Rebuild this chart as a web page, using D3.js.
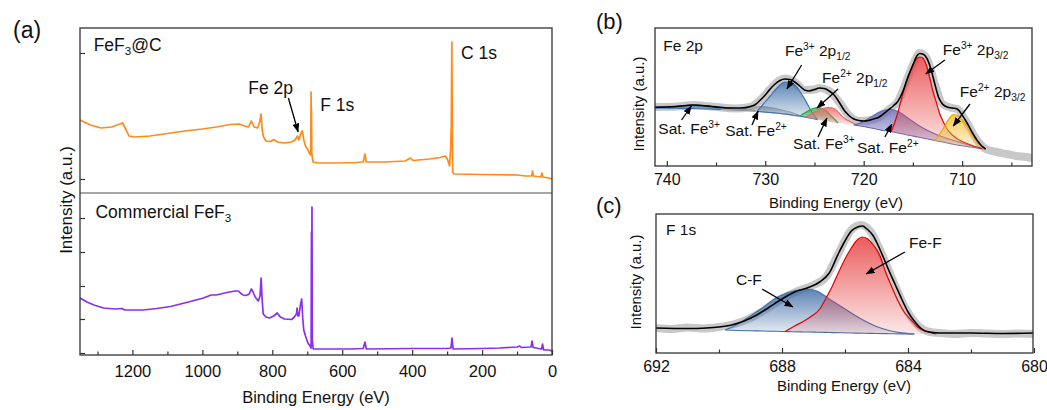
<!DOCTYPE html>
<html>
<head>
<meta charset="utf-8">
<script src="https://cdn.jsdelivr.net/npm/d3@7"></script>
<style>
body { margin: 0; background: #fff; }
svg { font-family: "Liberation Sans", Arial, sans-serif; }
text { white-space: pre; }
</style>
</head>
<body>
<div id="chart"></div>
<script>
// ---- survey spectra (binding energy eV, intensity a.u.) ----
var fef3cSurvey = [[1350,36.5],[1320,34],[1290,32.5],[1260,33],[1235,34.5],[1228,35],[1218,31.5],[1210,28.5],[1195,28],[1150,28.5],[1100,29.75],[1050,31],[1000,32],[960,33],[920,34.25],[895,34.5],[880,33.5],[868,33],[860,36],[852,33],[842,32.5],[836,35.5],[832,39.5],[829,31.5],[825,28],[818,26],[805,25.75],[796,26.75],[785,25.5],[765,25],[745,25.5],[735,26.5],[728,28.5],[724,26.5],[719,29.5],[714,31],[710,26.5],[705,23.5],[698,21.5],[693,19.5],[690,19],[689,50.5],[688.5,30],[688,42.5],[687,20],[685,17],[683,15.5],[670,15],[620,15],[560,15.25],[540,15.5],[535,19.5],[531,15.5],[480,15.5],[420,16],[405,17.5],[398,16.25],[350,17],[320,17.75],[305,18.5],[298,16.5],[293,13.5],[290,21.5],[288,34],[286.5,75.5],[285,30],[284,10.5],[280,9.5],[200,9.25],[100,9],[75,8.5],[58,8.5],[56,11],[53,8.5],[32,8],[29,10],[26,8],[10,7.5],[0,7]];
var commercialSurvey = [[1350,28.5],[1330,26.5],[1310,25],[1283,23.5],[1250,23],[1230,23.25],[1222,22.5],[1200,22.5],[1169,22.5],[1130,23.25],[1091,24.25],[1040,26.5],[997,28.5],[975,30],[960,30],[930,31.25],[906,32],[897,32],[890,30.75],[883,30],[875,29.75],[866,30.5],[860,33],[855,31.5],[849,29],[840,27],[835,29.5],[832,38.5],[829,27.5],[826,20.5],[818,19],[808,18.5],[796,19.5],[786,21],[777,19],[765,18],[745,17.75],[738,18.75],[731,20.5],[729,23.5],[727,19.5],[724,19.5],[720,24.5],[716,28],[713,18.5],[710,12.5],[705,9.5],[698,6],[692,4.5],[689,3.5],[688,61.5],[687.5,20],[686.5,74],[685.5,7.5],[683,3],[650,3],[580,3],[540,3.25],[535,6.5],[531,3],[400,3.25],[300,3.25],[289,3.5],[286,8.5],[283,3],[200,3.25],[150,3.5],[100,4],[92,4.5],[88,3.75],[60,4],[57,7],[54,3.75],[30,3],[27,5.5],[24,2.5],[10,2.5],[0,2]];
var surveyTicks = [1200, 1000, 800, 600, 400, 200, 0];
var surveyMinor = [1300, 1100, 900, 700, 500, 300, 100];
var topTicksY = [7, 70];
var botTicksY = [1, 18, 34.5, 51.5, 68.5];

// ---- Fe 2p (E, intensity) and fitted components (E, top, base) ----
var fe2pRaw = [[741.2,29.5],[739,29.75],[737.3,30.5],[735.5,29.75],[733,28.75],[731.5,29.5],[730.5,33],[729.5,38.5],[728.5,43],[728,43.75],[727,42],[726,38],[725,38.25],[724.5,39],[723.5,37.5],[722.5,32],[721.5,25.25],[720.5,22.5],[719.5,22.75],[718.5,24.25],[717.5,28],[716.5,32.5],[715.5,44.5],[715,50.5],[714.3,56.5],[713.6,54],[712.8,41.5],[712,31],[711,29],[710.5,28.5],[709.5,21.5],[708.5,13],[707.6,8.5],[706.5,7],[705.5,6],[704.5,5],[703.5,4.5],[702.9,4]];
var fe2pEnvelope = [[741.2,29.25],[740,29.5],[739,29.75],[738,30.25],[737.3,30.5],[736.5,30.25],[735.5,29.75],[734.5,29.25],[733.5,29],[732.5,29],[731.5,29.75],[731,30.75],[730.5,33],[730,35.5],[729.5,38.5],[729,41],[728.5,42.75],[728,43.5],[727.5,43.25],[727,42],[726.5,40],[726,38],[725.5,37.5],[725,38.25],[724.5,39],[724,38.75],[723.5,37.5],[723,35.5],[722.5,32],[722,28],[721.5,25.25],[721,23.5],[720.5,22.75],[720,22.5],[719.5,22.75],[719,23.5],[718.5,24.25],[718,26],[717.5,28],[717,30],[716.5,32.5],[716,37.5],[715.5,44.5],[715,50.5],[714.6,55],[714.3,56.25],[714,56],[713.6,54],[713.2,49],[712.8,41.5],[712.4,34.5],[712,31],[711.5,29.5],[711,29],[710.5,28.5],[710,25.5],[709.5,21.5],[709,17],[708.5,13],[708,10],[707.6,8.5]];
var satFe3A = [[741.2,29.75,29],[739,30,28.85],[737.5,30.5,28.7],[736,30.25,28.5],[734,29.25,28.25],[732,28.25,27.75],[731,27.6,27.5]];
var satFe2A = [[734.5,28.25,28.25],[733,28.75,28],[731.5,29.5,27.6],[730.5,29.75,27.25],[729.5,29.25,26.75],[728.5,28.25,26.25],[727.5,27,25.5],[726.5,25.25,24.9]];
var fe3p12 = [[730.8,27.5,27.25],[730.2,31,27],[729.5,35,26.75],[729,38,26.5],[728.5,40.5,26.25],[728,42,26],[727.5,41.75,25.75],[727,40.5,25.25],[726.5,37.5,25],[726,33.5,24.5],[725.5,29,24],[725,25,23.5],[724.7,23.25,23.1]];
var fe2p12 = [[726.5,24.85,24.85],[726,26.5,24.5],[725.5,28,24],[725,29,23.5],[724.6,29.25,23.15],[724.2,28.75,22.75],[723.8,27.5,22.35],[723.4,25.5,22],[723,23.5,21.65],[722.6,21.5,21.35]];
var satFe3B = [[726,24.5,24.5],[725.5,25.5,24],[725,27,23.5],[724.5,28.25,23],[724,29,22.5],[723.6,29.25,22.25],[723,28.75,21.75],[722.5,26.5,21.35],[722,24,21],[721.5,22.5,20.75],[721,21.25,20.5],[720.5,20.25,20.1]];
var satFe2B = [[721,20.5,20.5],[720.5,21.25,20.15],[720,22.25,19.75],[719.5,23.75,19.25],[719,25.25,18.75],[718.5,26.75,18.25],[718,27.75,17.75],[717.3,28.25,17.25],[716.5,27.25,16.5],[716,25.75,16],[715.3,23.25,15.25],[714.5,20.5,14.5],[713.5,17.75,13.5],[712.5,15.5,12.5],[711.5,13.75,11.5],[710.5,12.25,10.5],[709.5,10.75,9.75],[708.5,9.5,9],[707.6,8.5,8.5]];
var fe3p32 = [[717.2,17.25,17.1],[716.9,21,16.85],[716.6,25.5,16.6],[716.3,31,16.35],[716,36.5,16],[715.6,43,15.6],[715.3,47,15.25],[715,50.5,15],[714.6,53.75,14.5],[714.3,54.5,14.25],[714,54,14],[713.6,50,13.5],[713.3,44.5,13.25],[713,38,13],[712.6,31.5,12.5],[712.3,26.5,12.25],[712,23,12],[711.6,19,11.5],[711,15.5,11],[710.3,13,10.35],[709.5,11.25,9.75],[708.7,9.75,9.1],[708,8.75,8.6]];
var fe2p32 = [[712.8,12.75,12.75],[712.4,15,12.35],[712,18,12],[711.6,21.5,11.5],[711.2,24.5,11.15],[710.9,25.75,10.9],[710.5,25.25,10.5],[710,23,10.1],[709.5,19.5,9.75],[709,15.5,9.35],[708.5,12,9],[708,9.5,8.65],[707.6,8.25,8.25]];
var fe2pTicks = [740, 730, 720, 710];
var fe2pMinor = [735, 725, 715, 705];

// ---- F 1s ----
var f1sRaw = [[692,12.5],[691.5,12],[691,12.75],[690.5,12.25],[690,13],[689.5,14.5],[689,17.5],[688.5,22],[688,27],[687.5,31],[687,34],[686.6,38],[686.2,50],[685.8,61.5],[685.5,64],[685.2,61],[684.9,52],[684.5,37],[684.1,23],[683.7,14],[683.3,10.5],[683,10],[682.5,9.5],[682,10],[681.5,9.75],[681,9.5],[680.5,9.75],[680,9.5]];
var f1sEnvelope = [[692,12.5],[691,12.25],[690.4,12.5],[690,13],[689.6,14],[689.2,16],[688.8,19],[688.4,23],[688,27],[687.6,30.5],[687.2,32.5],[686.8,35.5],[686.5,40],[686.2,50],[686,56],[685.8,61],[685.6,63],[685.45,63.5],[685.3,62],[685.1,58.5],[685,55.5],[684.8,48.5],[684.6,41],[684.4,34],[684.2,27],[684,20.5],[683.8,16],[683.6,12.5],[683.4,10.75],[683,10],[682,10],[681,9.75],[680,10]];
var cfPeak = [[689.8,11.5,11.5],[689.4,14.5,11.25],[689,18.5,11.1],[688.6,22.75,11],[688.2,27.5,10.85],[687.8,30.25,10.7],[687.4,31.75,10.55],[687.2,32,10.5],[686.9,31,10.4],[686.5,27,10.25],[686.1,23,10.1],[685.8,20,10],[685.4,16.25,9.9],[685,13.25,9.75],[684.6,11.25,9.65],[684.2,10.1,9.55],[683.8,9.5,9.5]];
var fefPeak = [[687.9,10.75,10.75],[687.6,13.5,10.6],[687.3,16,10.55],[687.1,18,10.5],[686.8,22,10.4],[686.6,27.5,10.3],[686.4,33.5,10.2],[686.2,40.5,10.15],[686,47,10.05],[685.8,52.5,10],[685.6,56.75,9.95],[685.45,58,9.9],[685.3,57.25,9.85],[685.1,54,9.8],[684.9,49,9.75],[684.7,40,9.7],[684.5,32.5,9.65],[684.3,25.5,9.6],[684.1,20,9.55],[683.9,16.5,9.5],[683.7,13,9.5],[683.4,10.75,9.45],[683.1,9.5,9.45]];
var f1sTicks = [692, 688, 684, 680];
var f1sMinor = [690, 686, 682];

// ---- annotations (text parts, positions in data units) ----
var annoTop = [
  {parts: ["FeF", ["3", "sub"], "@C"], at: [1311, 71]},
  {parts: ["Fe 2p"], at: [868.6, 49.5], from: [754, 47.5], to: [726, 30.5]},
  {parts: ["F 1s"], at: [662.9, 41]},
  {parts: ["C 1s"], at: [260, 67]}
];
var annoBot = [
  {parts: ["Commercial FeF", ["3", "sub"]], at: [1305.7, 68.5]}
];
var annoFe = [
  {parts: ["Fe 2p"], at: [740.35, 57.5]},
  {parts: ["Fe", ["3+", "sup"], " 2p", ["1/2", "sub"]], at: [728.0, 55], from: [726.3, 50.5], to: [727.8, 38.5]},
  {parts: ["Fe", ["2+", "sup"], " 2p", ["1/2", "sub"]], at: [724.23, 41.5], from: [722.6, 38.5], to: [724.74, 29]},
  {parts: ["Fe", ["3+", "sup"], " 2p", ["3/2", "sub"]], at: [711.96, 55.5], from: [711.75, 53], to: [713.7, 46]},
  {parts: ["Fe", ["2+", "sup"], " 2p", ["3/2", "sub"]], at: [710.23, 34.5], from: [709.2, 31], to: [710.9, 20]},
  {parts: ["Sat. Fe", ["3+", "sup"]], at: [740.86, 16], from: [738.5, 23], to: [737.5, 30]},
  {parts: ["Sat. Fe", ["2+", "sup"]], at: [734.07, 15], from: [731.35, 20.5], to: [730.72, 27.5]},
  {parts: ["Sat. Fe", ["3+", "sup"]], at: [727.17, 8.5], from: [724.64, 14.5], to: [723.73, 24]},
  {parts: ["Sat. Fe", ["2+", "sup"]], at: [720.68, 6.5], from: [717.84, 14.5], to: [717.13, 21]}
];
var annoF = [
  {parts: ["F 1s"], at: [691.68, 59]},
  {parts: ["Fe-F"], at: [683.97, 52.5], from: [684.1, 50.5], to: [685.33, 39.5]},
  {parts: ["C-F"], at: [689.46, 34], from: [688.63, 32], to: [687.65, 23]}
];

var svg = d3.select("#chart").append("svg").attr("width", 1047).attr("height", 410);
var defs = svg.append("defs");
defs.append("marker").attr("id", "arrow").attr("markerUnits", "userSpaceOnUse")
  .attr("markerWidth", 9).attr("markerHeight", 7).attr("refX", 8.5).attr("refY", 3.5)
  .attr("orient", "auto")
  .append("path").attr("d", "M0,0 L9,3.5 L0,7 Z").attr("fill", "#000");

function rich(sel, parts, size) {
  var off = 0;
  parts.forEach(function(p) {
    var txt = Array.isArray(p) ? p[0] : p;
    var kind = Array.isArray(p) ? p[1] : null;
    var target = kind === "sup" ? -size * 0.4 : kind === "sub" ? size * 0.25 : 0;
    sel.append("tspan").attr("dy", target - off).attr("font-size", kind ? size * 0.66 : size).text(txt);
    off = target;
  });
}

function annotate(g, list, x, y, size) {
  list.forEach(function(a) {
    if (a.from) {
      g.append("line").attr("x1", x(a.from[0])).attr("y1", y(a.from[1]))
        .attr("x2", x(a.to[0])).attr("y2", y(a.to[1]))
        .attr("stroke", "#000").attr("stroke-width", 1.3).attr("marker-end", "url(#arrow)");
    }
    var t = g.append("text").attr("x", x(a.at[0])).attr("y", y(a.at[1])).attr("fill", "#111");
    rich(t, a.parts, size);
  });
}

function clip(id, x0, y0, w, h) {
  defs.append("clipPath").attr("id", id).append("rect").attr("x", x0).attr("y", y0).attr("width", w).attr("height", h);
  return "url(#" + id + ")";
}

function bottomAxis(g, x, y0, major, minor, size, pad) {
  var ax = g.append("g").attr("transform", "translate(0," + y0 + ")")
    .call(d3.axisBottom(x).tickValues(major).tickSize(-5).tickPadding(pad).tickFormat(d3.format("d")));
  ax.select(".domain").remove();
  ax.selectAll("line").attr("stroke", "#333").attr("stroke-width", 1.2);
  ax.selectAll("text").attr("font-size", size).attr("fill", "#111").attr("font-family", null);
  var mi = g.append("g").attr("transform", "translate(0," + y0 + ")")
    .call(d3.axisBottom(x).tickValues(minor).tickSize(-3.5).tickFormat(""));
  mi.select(".domain").remove();
  mi.selectAll("line").attr("stroke", "#333").attr("stroke-width", 1.2);
}

function gradient(id, color) {
  var lg = defs.append("linearGradient").attr("id", id).attr("x1", 0).attr("y1", 0).attr("x2", 0).attr("y2", 1);
  lg.append("stop").attr("offset", "0%").attr("stop-color", color).attr("stop-opacity", 0.85);
  lg.append("stop").attr("offset", "100%").attr("stop-color", color).attr("stop-opacity", 0.12);
  return "url(#" + id + ")";
}

// fitted peak: gradient fill, top outline, optional base outline
function drawPeak(g, data, x, y, fill, line, withBase, id) {
  var area = d3.area().x(function(d) { return x(d[0]); }).y0(function(d) { return y(d[2]); })
    .y1(function(d) { return y(d[1]); }).curve(d3.curveMonotoneX);
  var top = d3.line().x(function(d) { return x(d[0]); }).y(function(d) { return y(d[1]); }).curve(d3.curveMonotoneX);
  var base = d3.line().x(function(d) { return x(d[0]); }).y(function(d) { return y(d[2]); }).curve(d3.curveMonotoneX);
  g.append("path").datum(data).attr("d", area).attr("fill", gradient(id, fill));
  g.append("path").datum(data).attr("d", top).attr("fill", "none").attr("stroke", line).attr("stroke-width", 1.2);
  if (withBase) {
    g.append("path").datum(data).attr("d", base).attr("fill", "none").attr("stroke", line).attr("stroke-width", 1.1);
  }
}

// ================= (a) survey =================
var xa = d3.scaleLinear().domain([1350, 0]).range([80, 552]);
var yTop = d3.scaleLinear().domain([0, 82.5]).range([193, 28]);
var yBot = d3.scaleLinear().domain([0, 81]).range([355, 193]);
var ga = svg.append("g");

var lineTop = d3.line().x(function(d) { return xa(d[0]); }).y(function(d) { return yTop(d[1]); });
var lineBot = d3.line().x(function(d) { return xa(d[0]); }).y(function(d) { return yBot(d[1]); });
ga.append("path").datum(fef3cSurvey).attr("d", lineTop).attr("fill", "none")
  .attr("stroke", "#ff8a1c").attr("stroke-width", 1.7).attr("stroke-linejoin", "round")
  .attr("clip-path", clip("clipTop", 80, 28, 472, 165));
ga.append("path").datum(commercialSurvey).attr("d", lineBot).attr("fill", "none")
  .attr("stroke", "#8a2ef0").attr("stroke-width", 1.7).attr("stroke-linejoin", "round")
  .attr("clip-path", clip("clipBot", 80, 193, 472, 162));

[[yTop, topTicksY], [yBot, botTicksY]].forEach(function(p) {
  var ay = ga.append("g").attr("transform", "translate(80,0)")
    .call(d3.axisLeft(p[0]).tickValues(p[1]).tickSize(-5).tickFormat(""));
  ay.select(".domain").remove();
  ay.selectAll("line").attr("stroke", "#333").attr("stroke-width", 1.2);
});
bottomAxis(ga, xa, 355, surveyTicks, surveyMinor, 16.5, 10);

ga.append("line").attr("x1", 80).attr("x2", 552).attr("y1", 193).attr("y2", 193)
  .attr("stroke", "#888").attr("stroke-width", 1.5);
ga.append("rect").attr("x", 80).attr("y", 28).attr("width", 472).attr("height", 327)
  .attr("fill", "none").attr("stroke", "#333").attr("stroke-width", 1.3);

annotate(ga, annoTop, xa, yTop, 17.5);
annotate(ga, annoBot, xa, yBot, 17.5);

ga.append("text").attr("x", 316).attr("y", 403).attr("text-anchor", "middle")
  .attr("font-size", 16.5).attr("fill", "#111").text("Binding Energy (eV)");
ga.append("text").attr("transform", "translate(72,200) rotate(-90)").attr("text-anchor", "middle")
  .attr("font-size", 17).attr("fill", "#111").text("Intensity (a.u.)");

// ================= (b) Fe 2p =================
var xb = d3.scaleLinear().domain([741.2, 702.9]).range([655, 1032]);
var yb = d3.scaleLinear().domain([0, 69]).range([166, 28]);
var gb = svg.append("g");
var gbIn = gb.append("g").attr("clip-path", clip("clipB", 655, 28, 377, 138));

var lineB = d3.line().x(function(d) { return xb(d[0]); }).y(function(d) { return yb(d[1]); }).curve(d3.curveMonotoneX);

gbIn.append("path").datum(fe2pRaw).attr("d", lineB).attr("fill", "none")
  .attr("stroke", "#c8c8c8").attr("stroke-width", 8).attr("stroke-linecap", "round").attr("stroke-linejoin", "round");

var compsB = [
  {data: satFe3A, fill: "#3f6ea8", line: "#3d6fb0", base: true},
  {data: satFe2A, fill: "#9a9a9a", line: "#a5a5a5", base: true},
  {data: fe3p12, fill: "#3f6ea8", line: "#3d6fb0", base: true},
  {data: fe2p12, fill: "#2fae4e", line: "#1fae45", base: false},
  {data: satFe3B, fill: "#ec6a6a", line: "#e86a6a", base: false},
  {data: satFe2B, fill: "#6e6eb8", line: "#6a6ab5", base: true},
  {data: fe3p32, fill: "#e84444", line: "#e60000", base: false},
  {data: fe2p32, fill: "#f5bd30", line: "#f0a800", base: false}
];
compsB.forEach(function(c, i) {
  drawPeak(gbIn, c.data, xb, yb, c.fill, c.line, c.base, "gB" + i);
});
gbIn.append("path").datum(fe2pEnvelope).attr("d", lineB).attr("fill", "none")
  .attr("stroke", "#000").attr("stroke-width", 1.6);

bottomAxis(gb, xb, 166, fe2pTicks, fe2pMinor, 16, 8);
gb.append("rect").attr("x", 655).attr("y", 28).attr("width", 377).attr("height", 138)
  .attr("fill", "none").attr("stroke", "#333").attr("stroke-width", 1.3);
annotate(gb, annoFe, xb, yb, 15.5);
gb.append("text").attr("x", 836).attr("y", 208).attr("text-anchor", "middle")
  .attr("font-size", 15).attr("fill", "#111").text("Binding Energy (eV)");
gb.append("text").attr("transform", "translate(644,104) rotate(-90)").attr("text-anchor", "middle")
  .attr("font-size", 15).attr("fill", "#111").text("Intensity (a.u.)");

// ================= (c) F 1s =================
var xc = d3.scaleLinear().domain([692, 680]).range([656, 1034]);
var yc = d3.scaleLinear().domain([0, 69.5]).range([353, 214]);
var gc = svg.append("g");
var gcIn = gc.append("g").attr("clip-path", clip("clipC", 656, 214, 377, 139));

var lineC = d3.line().x(function(d) { return xc(d[0]); }).y(function(d) { return yc(d[1]); }).curve(d3.curveMonotoneX);

gcIn.append("path").datum(f1sRaw).attr("d", lineC).attr("fill", "none")
  .attr("stroke", "#c8c8c8").attr("stroke-width", 8).attr("stroke-linecap", "round").attr("stroke-linejoin", "round");
drawPeak(gcIn, cfPeak, xc, yc, "#3f6ea8", "#3d6fb0", true, "gC0");
drawPeak(gcIn, fefPeak, xc, yc, "#e84040", "#e60000", false, "gC1");
gcIn.append("path").datum(f1sEnvelope).attr("d", lineC).attr("fill", "none")
  .attr("stroke", "#000").attr("stroke-width", 1.6);

bottomAxis(gc, xc, 353, f1sTicks, f1sMinor, 16, 8);
gc.append("rect").attr("x", 656).attr("y", 214).attr("width", 377).attr("height", 139)
  .attr("fill", "none").attr("stroke", "#333").attr("stroke-width", 1.3);
annotate(gc, annoF, xc, yc, 15.5);
gc.append("text").attr("x", 844).attr("y", 391).attr("text-anchor", "middle")
  .attr("font-size", 15).attr("fill", "#111").text("Binding Energy (eV)");
gc.append("text").attr("transform", "translate(641,282) rotate(-90)").attr("text-anchor", "middle")
  .attr("font-size", 15).attr("fill", "#111").text("Intensity (a.u.)");

// panel letters
svg.append("text").attr("x", 13).attr("y", 38).attr("font-size", 23).attr("fill", "#111").text("(a)");
svg.append("text").attr("x", 596).attr("y", 29).attr("font-size", 22).attr("fill", "#111").text("(b)");
svg.append("text").attr("x", 596).attr("y", 213).attr("font-size", 22).attr("fill", "#111").text("(c)");
</script>
</body>
</html>
